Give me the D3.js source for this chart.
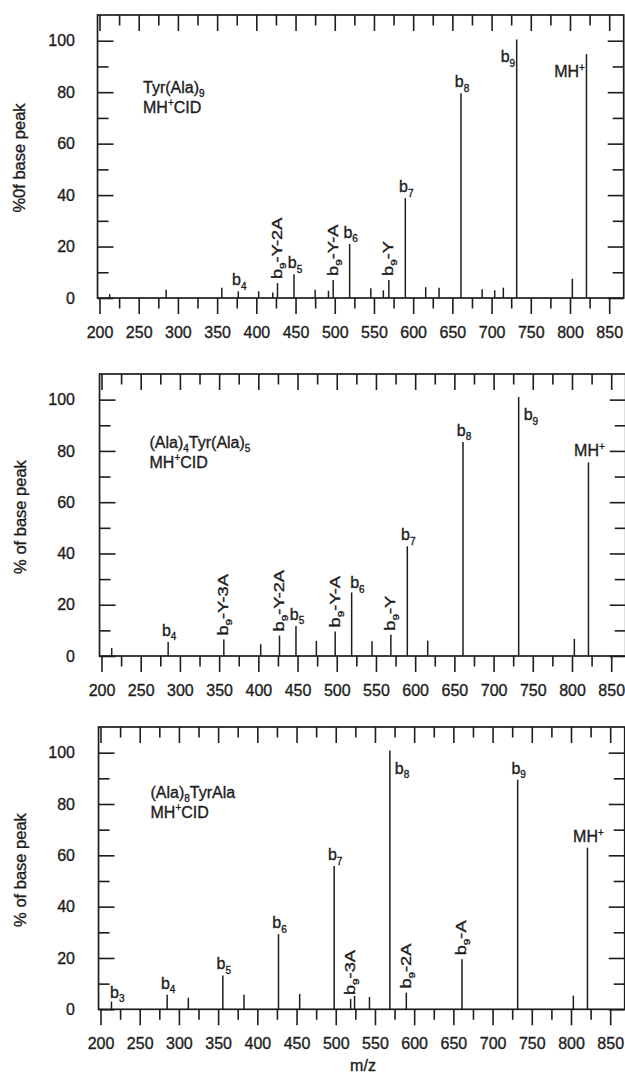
<!DOCTYPE html>
<html>
<head>
<meta charset="utf-8">
<script src="https://cdn.jsdelivr.net/npm/d3@7/dist/d3.min.js"></script>
<style>
  body { margin: 0; background: #fff; }
  svg text { font-family: "Liberation Sans", Arial, Helvetica, sans-serif; fill: #1d1d1d; stroke: #1d1d1d; stroke-width: 0.35px; }
</style>
</head>
<body>
<div id="chart"></div>
<script>
// ---- data ----
const xMajorTicks = [200, 250, 300, 350, 400, 450, 500, 550, 600, 650, 700, 750, 800, 850];
const xMinorTicks = [225, 275, 325, 375, 425, 475, 525, 575, 625, 675, 725, 775, 825];
const yMajorTicks = [0, 20, 40, 60, 80, 100];
const yMinorTicks = [10, 30, 50, 70, 90];

// Tyr(Ala)9
const tyrMz  = [213, 285, 356, 377, 403, 421, 427, 448, 475, 492, 498, 519, 546, 562, 569, 590, 616, 633, 661, 688, 704, 715, 732, 803, 821];
const tyrPct = [1.5, 3.2, 4.0, 2.6, 2.6, 2.1, 5.8, 9.2, 3.2, 2.8, 7.0, 21, 3.8, 3.0, 7.0, 38.8, 4.2, 4.0, 79.6, 3.4, 3.0, 4.0, 100.5, 7.5, 94.8];
const tyrLabelMz   = [377, 427, 448, 498, 519, 569, 590, 661, 732, 821];
const tyrLabelText = ["b_4", "b_9-Y-2A", "b_5", "b_9-Y-A", "b_6", "b_9-Y", "b_7", "b_8", "b_9", "MH^+"];
const tyrLabelSide = ["top", "vert", "top", "vert", "top", "vert", "top", "top", "left", "left"];

// (Ala)4Tyr(Ala)5
const midMz  = [213, 285, 356, 403, 427, 448, 474, 498, 519, 545, 569, 590, 616, 661, 732, 803, 821];
const midPct = [3.1, 5.5, 6.4, 4.6, 8.0, 11.7, 5.9, 9.6, 24.8, 5.8, 8.3, 42.8, 6.0, 83.5, 101, 6.7, 75.5];
const midLabelMz   = [285, 356, 427, 448, 498, 519, 569, 590, 661, 732, 821];
const midLabelText = ["b_4", "b_9-Y-3A", "b_9-Y-2A", "b_5", "b_9-Y-A", "b_6", "b_9-Y", "b_7", "b_8", "b_9", "MH^+"];
const midLabelSide = ["top", "vert", "vert", "top", "vert", "topright", "vert", "top", "top", "right", "top"];

// (Ala)8TyrAla
const endMz  = [214, 285, 312, 356, 383, 427, 454, 498, 519, 524, 543, 569, 590, 661, 732, 803, 821];
const endPct = [3.0, 5.7, 4.5, 13.2, 5.7, 29.3, 6.0, 55.8, 4.0, 5.2, 4.8, 100.8, 6.5, 19.5, 89.5, 5.3, 63];
const endLabelMz   = [214, 285, 356, 427, 498, 519, 569, 590, 661, 732, 821];
const endLabelText = ["b_3", "b_4", "b_5", "b_6", "b_7", "b_9-3A", "b_8", "b_9-2A", "b_9-A", "b_9", "MH^+"];
const endLabelSide = ["topright", "top", "top", "top", "top", "vert", "right", "vert", "vert", "top", "top"];

const sampleNames = ["Tyr(Ala)_9", "(Ala)_4Tyr(Ala)_5", "(Ala)_8TyrAla"];
const yTitles = ["%0f base peak", "% of base peak", "% of base peak"];

// ---- layout ----
const width = 625, height = 1076;
const ink = "#1d1d1d";

const panels = [
  { mz: tyrMz, pct: tyrPct, lMz: tyrLabelMz, lText: tyrLabelText, lSide: tyrLabelSide,
    top: 15, zero: 298, shift: 0, nameX: 143, nameY: 93, titleX: 25, titleY: 158 },
  { mz: midMz, pct: midPct, lMz: midLabelMz, lText: midLabelText, lSide: midLabelSide,
    top: 374, zero: 656, shift: 2, nameX: 149.5, nameY: 448, titleX: 26, titleY: 517 },
  { mz: endMz, pct: endPct, lMz: endLabelMz, lText: endLabelText, lSide: endLabelSide,
    top: 727, zero: 1009.3, shift: 1, nameX: 150.5, nameY: 798, titleX: 26, titleY: 870 }
];

const svg = d3.select("#chart").append("svg")
  .attr("width", width)
  .attr("height", height);

// text with "_x" subscripts and "^x" superscripts
function richText(textSel, str, size) {
  const small = Math.round(size * 0.62);
  let shift = 0, buf = "";
  const flush = () => {
    if (!buf) return;
    textSel.append("tspan").attr("font-size", size).attr("dy", -shift).text(buf);
    shift = 0; buf = "";
  };
  for (let i = 0; i < str.length; i++) {
    const c = str[i];
    if (c === "_" || c === "^") {
      flush();
      const d = c === "_" ? size * 0.28 : -size * 0.38;
      textSel.append("tspan").attr("font-size", small).attr("dy", d - shift).text(str[i + 1]);
      shift = d;
      i++;
    } else {
      buf += c;
    }
  }
  flush();
}

panels.forEach((p, pi) => {
  const x = d3.scaleLinear().domain([200, 850]).range([99.5 + p.shift, 609.2 + p.shift]);
  const y = d3.scaleLinear().domain([0, 110]).range([p.zero, p.top]);
  const left = x(197.5), right = x(868.5);
  const g = svg.append("g");

  // peaks
  g.selectAll("line.peak")
    .data(p.mz.map((m, i) => ({ mz: m, pct: p.pct[i] })))
    .join("line")
    .attr("class", "peak")
    .attr("x1", d => x(d.mz)).attr("x2", d => x(d.mz))
    .attr("y1", y(0)).attr("y2", d => y(d.pct))
    .attr("stroke", ink)
    .attr("stroke-width", 1.5);

  // frame
  g.append("rect")
    .attr("x", left).attr("y", y(110))
    .attr("width", right - left).attr("height", y(0) - y(110))
    .attr("fill", "none").attr("stroke", ink).attr("stroke-width", 1.7);

  const styleAxis = a => {
    a.select(".domain").remove();
    a.selectAll("line").attr("stroke", ink).attr("stroke-width", 1.6);
    a.selectAll("text").attr("font-size", 16).attr("fill", ink).attr("font-family", null);
  };

  // bottom axis (outward ticks, labels)
  g.append("g").attr("transform", `translate(0,${y(0)})`)
    .call(d3.axisBottom(x).tickValues(xMajorTicks).tickSize(16).tickPadding(12.5).tickFormat(d3.format("d")))
    .call(styleAxis);
  g.append("g").attr("transform", `translate(0,${y(0)})`)
    .call(d3.axisBottom(x).tickValues(xMinorTicks).tickSize(10.5).tickFormat(""))
    .call(styleAxis);

  // top axis (inward ticks)
  g.append("g").attr("transform", `translate(0,${y(110)})`)
    .call(d3.axisBottom(x).tickValues(xMajorTicks).tickSize(16).tickFormat(""))
    .call(styleAxis);
  g.append("g").attr("transform", `translate(0,${y(110)})`)
    .call(d3.axisBottom(x).tickValues(xMinorTicks).tickSize(10.5).tickFormat(""))
    .call(styleAxis);

  // left axis (inward ticks, labels outside)
  g.append("g").attr("transform", `translate(${left},0)`)
    .call(d3.axisLeft(y).tickValues(yMajorTicks).tickSizeInner(-16).tickSizeOuter(0).tickPadding(left - 75).tickFormat(d3.format("d")))
    .call(styleAxis);
  g.append("g").attr("transform", `translate(${left},0)`)
    .call(d3.axisLeft(y).tickValues(yMinorTicks).tickSizeInner(-11).tickSizeOuter(0).tickFormat(""))
    .call(styleAxis);

  // right axis (inward ticks)
  g.append("g").attr("transform", `translate(${right},0)`)
    .call(d3.axisLeft(y).tickValues(yMajorTicks).tickSize(16).tickFormat(""))
    .call(styleAxis);
  g.append("g").attr("transform", `translate(${right},0)`)
    .call(d3.axisLeft(y).tickValues(yMinorTicks).tickSize(11).tickFormat(""))
    .call(styleAxis);

  // y title
  g.append("text")
    .attr("transform", `translate(${p.titleX},${p.titleY}) rotate(-90)`)
    .attr("text-anchor", "middle")
    .attr("font-size", 16.5)
    .text(yTitles[pi]);

  // sample name
  const n1 = g.append("text").attr("x", p.nameX).attr("y", p.nameY);
  richText(n1, sampleNames[pi], 16);
  const n2 = g.append("text").attr("x", p.nameX).attr("y", p.nameY + 19.5);
  richText(n2, "MH^+CID", 16);

  // peak labels
  p.lMz.forEach((m, i) => {
    const px = x(m);
    const py = y(p.pct[p.mz.indexOf(m)]);
    const side = p.lSide[i];
    const t = g.append("text");
    if (side === "vert") {
      t.attr("transform", `translate(${px + 4.5},${py - 4}) rotate(-90) scale(1.3,1)`)
        .attr("text-anchor", "start");
      richText(t, p.lText[i], 14);
      return;
    }
    if (side === "top") {
      t.attr("x", px + 1).attr("y", py - 6).attr("text-anchor", "middle");
    } else if (side === "topright") {
      t.attr("x", px - 1.5).attr("y", py - 4).attr("text-anchor", "start");
    } else if (side === "left") {
      t.attr("x", px - 1.5).attr("y", py + 23).attr("text-anchor", "end");
    } else {
      t.attr("x", px + 5).attr("y", py + 23).attr("text-anchor", "start");
    }
    richText(t, p.lText[i], 16);
  });
});

// x title
svg.append("text")
  .attr("x", 363).attr("y", 1071)
  .attr("text-anchor", "middle")
  .attr("font-size", 16)
  .text("m/z");
</script>
</body>
</html>
